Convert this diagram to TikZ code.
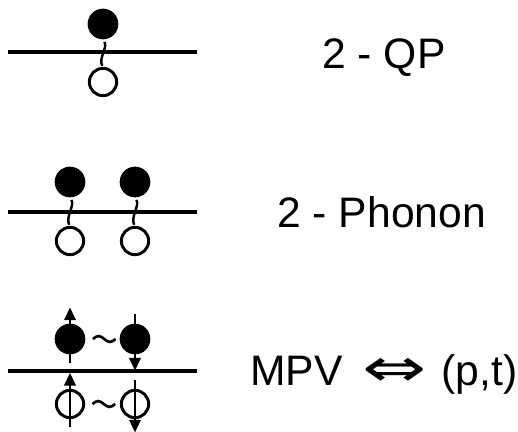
\documentclass[tikz,border=0pt]{standalone}
\usepackage{fontspec}
\setmainfont{Liberation Sans}
\newfontfamily\symfont{DejaVu Sans}
\usetikzlibrary{arrows.meta}

\tikzset{
  full/.style={circle, fill=black, inner sep=0pt, minimum size=23pt},
  hole/.style={circle, draw=black, line width=2.2pt, inner sep=0pt, minimum size=20.5pt},
  band/.style={line width=2.6pt},
  wig/.style={line width=1.8pt, shorten <=2pt, shorten >=1pt},
  wave/.style={line width=2pt},
  spin/.style={line width=1.8pt, -{Triangle[length=9.5pt,width=8.5pt]}},
  lbl/.style={anchor=base west, inner sep=0pt, font=\fontsize{32}{38}\selectfont},
}

\begin{document}
\begin{tikzpicture}[x=0.75pt,y=-0.75pt]
\useasboundingbox (0,0) rectangle (518,432);

% 2 - QP
\coordinate (a0) at (8,52);
\coordinate (a1) at (197,52);
\node[full] (p1) at (103,24) {};
\node[hole] (h1) at (103,82) {};
\draw[band] (a0) -- (a1);
\draw[wig] (p1.south) .. controls +(5,8) and +(-5,-8) .. (h1.north);
\node[lbl] (t1) at (322,68) {2 - QP};

% 2 - Phonon
\coordinate (b0) at (8,212);
\coordinate (b1) at (197,212);
\node[full] (p2) at (70,182) {};
\node[full] (p3) at (135,182) {};
\node[hole] (h2) at (70,241) {};
\node[hole] (h3) at (135,241) {};
\draw[band] (b0) -- (b1);
\draw[wig] (p2.south) .. controls +(5,8) and +(-5,-8) .. (h2.north);
\draw[wig] (p3.south) .. controls +(5,8) and +(-5,-8) .. (h3.north);
\node[lbl] (t2) at (277,227) {2 - Phonon};

% MPV
\coordinate (c0) at (8,371);
\coordinate (c1) at (197,371);
\node[full] (p4) at (70,339) {};
\node[full] (p5) at (135,339) {};
\node[hole] (h4) at (70,404) {};
\node[hole] (h5) at (135,404) {};
\draw[band] (c0) -- (c1);
\draw[spin] ([yshift=-6pt]p4.south) -- ([yshift=12pt]p4.north);
\draw[spin] ([yshift=6.75pt]p5.north) -- ([yshift=-12pt]p5.south);
\draw[spin] ([yshift=-6pt]h4.south) -- ([yshift=12pt]h4.north);
\draw[spin] ([yshift=6.75pt]h5.north) -- ([yshift=-10pt]h5.south);
\draw[wave] ([xshift=5.5pt]p4.east) sin ++(4.25pt,2.2pt) cos ++(4.25pt,-2.2pt)
  sin ++(4.25pt,-2.2pt) cos ++(4.25pt,2.2pt);
\draw[wave] ([xshift=5.5pt]h4.east) sin ++(4.25pt,2.2pt) cos ++(4.25pt,-2.2pt)
  sin ++(4.25pt,-2.2pt) cos ++(4.25pt,2.2pt);
\node[lbl] (t3) at (250,385) {MPV\hspace{15pt}\raisebox{-1pt}{\scalebox{1.8}[1.25]{\symfont ⇔}}\hspace{11pt}(p,t)};
\end{tikzpicture}
\end{document}
